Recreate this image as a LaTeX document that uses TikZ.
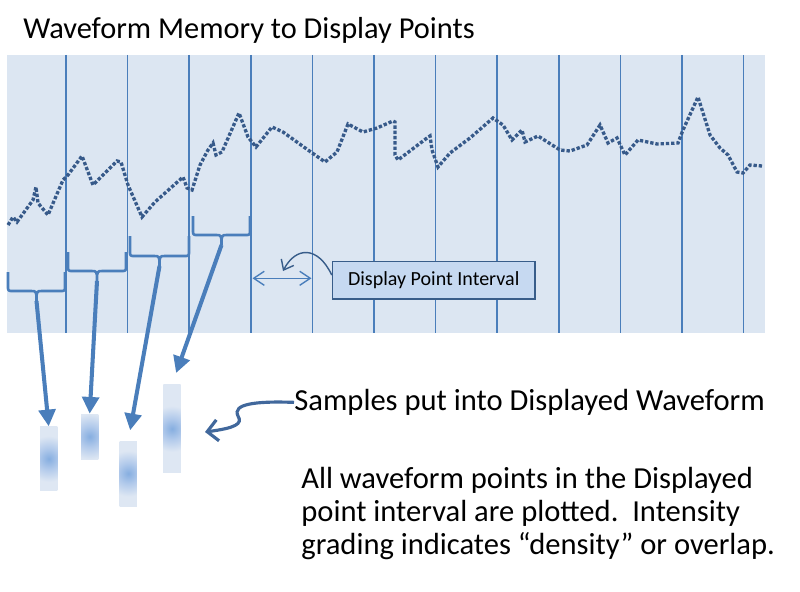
\documentclass[tikz,border=0pt]{standalone}
\usepackage{fontspec}
\setmainfont{Carlito}
\usetikzlibrary{arrows.meta}

\definecolor{memfill}{HTML}{DCE6F2}
\definecolor{lineblue}{HTML}{4A7EBB}
\definecolor{wavedot}{HTML}{375A8A}
\definecolor{boxfill}{HTML}{C6D9F1}
\definecolor{boxline}{HTML}{385D8A}
\definecolor{glowblue}{HTML}{86AEE0}
\definecolor{glowmid}{HTML}{B2CAEB}
\definecolor{barpale}{HTML}{DEE7F3}
\definecolor{curlblue}{HTML}{41689C}

% the blue glow in the middle of a displayed sample
\pgfdeclareradialshading{glow}{\pgfpoint{0bp}{0bp}}{color(0bp)=(glowblue); color(3bp)=(glowmid); color(6.5bp)=(barpale); color(50bp)=(barpale)}

\begin{document}
\begin{tikzpicture}[x=0.02cm, y=-0.02cm,
  memory/.style   = {fill=memfill},
  divider/.style  = {lineblue, line width=1pt},
  wave/.style     = {wavedot, line width=1.9pt, dash pattern=on 1.9pt off 1.1pt},
  bracket/.style  = {lineblue, line width=1.5pt, line join=round},
  feed/.style     = {lineblue, line width=2.3pt,
                     -{Triangle[length=9.5pt,width=9.5pt]}},
  sample/.style   = {fill=barpale, inner sep=0pt, minimum width=0.346cm,
                     path picture={\shade[shading=glow] (path picture bounding box.center)
                                   circle (50bp);}},
  interval/.style = {lineblue, line width=0.8pt,
                     {Straight Barb[length=6pt,width=8pt]}-{Straight Barb[length=6pt,width=8pt]}},
  intbox/.style   = {draw=boxline, line width=0.8pt, fill=boxfill, inner sep=0pt,
                     minimum width=4.05cm, minimum height=0.75cm,
                     font=\fontsize{11.4}{13}\selectfont},
  pointer/.style  = {boxline, line width=0.8pt, -{Straight Barb[length=5pt,width=8pt]}},
  curl/.style     = {curlblue, line width=1.8pt, -{Straight Barb[length=6pt,width=12pt]}},
  heading/.style  = {inner sep=0pt, font=\fontsize{17.3}{19}\selectfont},
  body/.style     = {inner sep=0pt, align=left, font=\fontsize{17.4}{18.7}\selectfont},
]
  \useasboundingbox (0,0) rectangle (800,591);

  \node[heading, anchor=base west] (head) at (23,38.5) {Waveform Memory to Display Points};

  % waveform memory: the record, cut into display point intervals
  \fill[memory] (7,55) rectangle (765,333);
  \foreach \i in {0,...,11}
    \draw[divider] ({66+61.6*\i},55) -- ({66+61.6*\i},333);

  \draw[wave] (8,225) -- (13,217) -- (17,222) -- (33,200) -- (36,187) -- (38,203)
    -- (48,215) -- (63,180) -- (68,175) -- (82,156) -- (93,185) -- (117,161)
    -- (121,162) -- (128,185) -- (142,217) -- (155,202) -- (183,177) -- (187,188)
    -- (192,190) -- (200,165) -- (208,150) -- (213,143) -- (216,155) -- (222,152)
    -- (239,113) -- (248,137) -- (256,147) -- (272,127) -- (283,132) -- (308,150)
    -- (325,162) -- (337,152) -- (348,124) -- (363,132) -- (377,128) -- (393,121)
    -- (395,122) -- (395,155) -- (398,160) -- (427,138) -- (430,136) -- (432,150)
    -- (438,167) -- (450,153) -- (470,138) -- (493,118) -- (503,125) -- (512,140)
    -- (522,130) -- (525,142) -- (538,136) -- (560,150) -- (570,151) -- (587,145)
    -- (600,125) -- (608,143) -- (617,138) -- (625,155) -- (638,140) -- (657,144)
    -- (678,143) -- (683,130) -- (698,97) -- (710,135) -- (720,148) -- (728,155)
    -- (737,172) -- (743,173) -- (750,165) -- (762,166);

  % one bracket per interval, its tip feeding a displayed sample
  \foreach \xa/\xb/\yt/\yh [count=\k] in {8/65/272/291, 68/126/252/271,
                                          130/189/236/256, 193/250/216/235} {
    \pgfmathsetmacro\xm{(\xa+\xb)/2}
    \draw[bracket] (\xa,\yt) -- (\xa,\yh-5) .. controls (\xa,\yh) .. (\xa+5,\yh)
      -- (\xm-6,\yh) .. controls (\xm,\yh) .. (\xm,\yh+10)
      .. controls (\xm,\yh) .. (\xm+6,\yh) -- (\xb-5,\yh)
      .. controls (\xb,\yh) .. (\xb,\yh-5) -- (\xb,\yt);
    \coordinate (tip\k) at (\xm,\yh+10);
  }

  \node[sample, minimum height=1.286cm] (s1) at (48.7,458.8) {};
  \node[sample, minimum height=0.9cm]   (s2) at (89.7,436.5) {};
  \node[sample, minimum height=1.3cm]   (s3) at (128.3,473.5) {};
  \node[sample, minimum height=1.754cm] (s4) at (172,428.8) {};

  \draw[feed] (tip1) -- (s1.north);
  \draw[feed] (tip2) -- (s2.north);
  \draw[feed, shorten >=6pt] (tip3) -- (s3.north);
  \draw[feed, shorten >=7pt] (tip4) -- (s4.north);

  % the display point interval and its label
  \coordinate (iv1) at (252.5,278.3);
  \coordinate (iv2) at (311.5,278.3);
  \draw[interval] (iv1) -- (iv2);
  \node[intbox] (dpi) at (433.7,280.4) {Display Point Interval};
  \coordinate (dpitip) at (283,271);
  \draw[pointer] (dpi.177) .. controls (318,246) and (296,246) .. (dpitip);

  \node[body, anchor=base west] (samples) at (294,410.5) {Samples put into Displayed Waveform};
  \coordinate (curltip) at (205,432);
  \draw[curl] (samples.west) .. controls (255,401) and (232,404) .. (238,416)
    .. controls (243,424) and (235,428) .. (curltip);

  \node[body, anchor=north west] (note) at (301,467)
    {All waveform points in the Displayed\\point interval are plotted.\ \ Intensity\\grading indicates “density” or overlap.};
\end{tikzpicture}
\end{document}
